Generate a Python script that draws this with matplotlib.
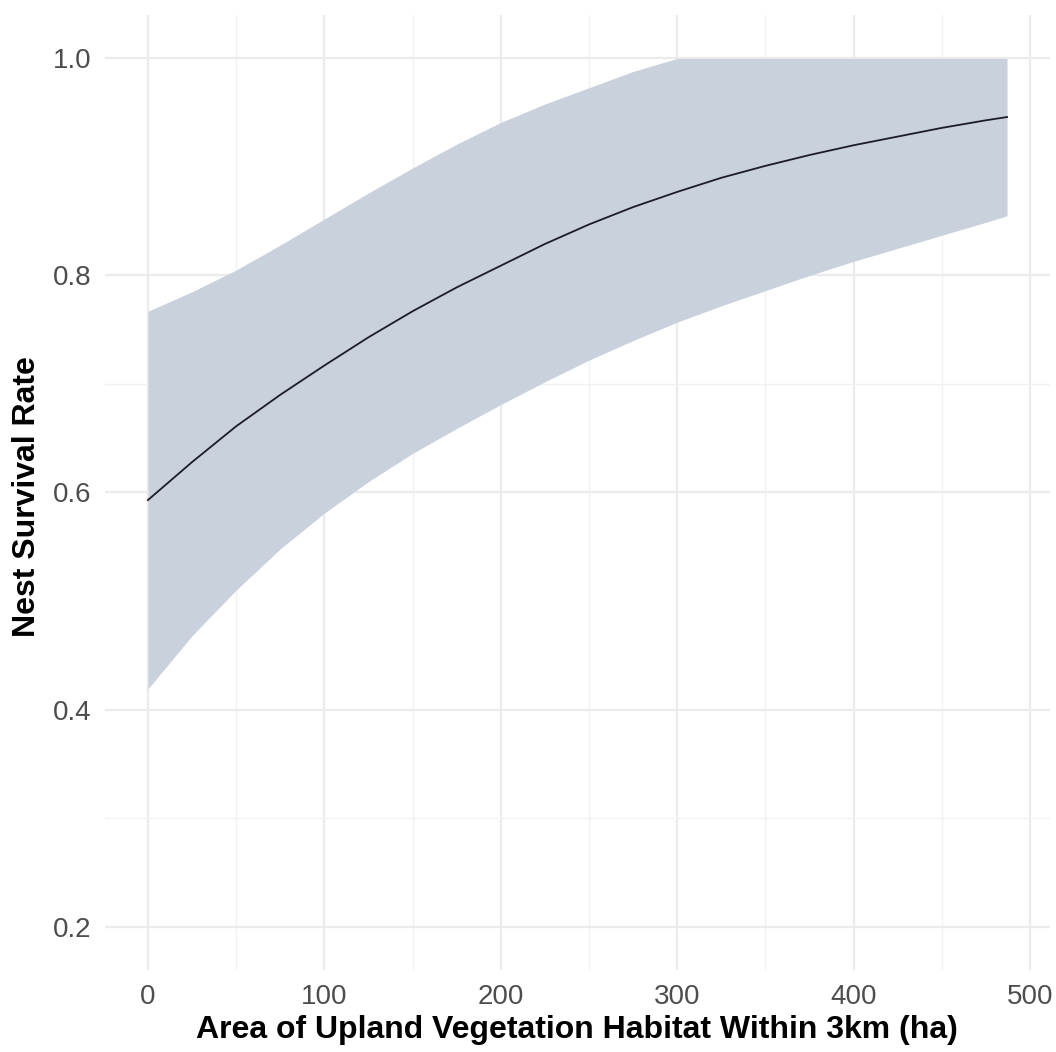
import numpy as np
import matplotlib
matplotlib.use("Agg")
from matplotlib import pyplot as plt

plt.rcParams['font.family'] = ['Liberation Sans', 'DejaVu Sans']

# habitat area (ha) and predicted nest survival with confidence band
area = [0, 25, 50, 75, 100, 125, 150, 175, 200, 225, 250, 275, 300,
        325, 350, 375, 400, 425, 450, 475, 487]
survival = [0.593, 0.628, 0.661, 0.690, 0.717, 0.743, 0.767, 0.789, 0.809, 0.829,
            0.847, 0.863, 0.877, 0.890, 0.901, 0.911, 0.920, 0.928, 0.936, 0.943, 0.946]
upper = [0.767, 0.785, 0.805, 0.828, 0.852, 0.876, 0.899, 0.921, 0.941, 0.958,
         0.973, 0.988, 1.0, 1.0, 1.0, 1.0, 1.0, 1.0, 1.0, 1.0, 1.0]
lower = [0.419, 0.468, 0.510, 0.548, 0.581, 0.610, 0.636, 0.659, 0.681, 0.702,
         0.722, 0.740, 0.757, 0.772, 0.786, 0.800, 0.813, 0.825, 0.837, 0.849, 0.855]

x_ticks = [0, 100, 200, 300, 400, 500]
x_minor = [50, 150, 250, 350, 450]
y_ticks = [0.2, 0.4, 0.6, 0.8, 1.0]
y_minor = [0.3, 0.7]

fig = plt.figure(figsize=(10.56, 10.52), dpi=100)
ax = fig.add_axes([0.0994, 0.078, 0.8949, 0.9077])

# gridlines (ggplot theme_minimal look)
for v in x_ticks:
    ax.axvline(v, color='#ebebeb', lw=1.6, zorder=0)
for v in x_minor:
    ax.axvline(v, color='#f2f2f2', lw=1.0, zorder=0)
for v in y_ticks:
    ax.axhline(v, color='#ebebeb', lw=1.6, zorder=0)
for v in y_minor:
    ax.axhline(v, color='#f2f2f2', lw=1.0, zorder=0)

ax.fill_between(area, lower, upper, color='#c9d1dc', lw=0, zorder=1)
ax.plot(area, survival, color='#1c1c28', lw=1.3, zorder=2)

ax.set_xlim(-24.35, 511.35)
ax.set_ylim(0.16, 1.04)
ax.set_xticks(x_ticks)
ax.set_yticks(y_ticks)
ax.set_xticklabels([str(v) for v in x_ticks])
ax.set_yticklabels(['%.1f' % v for v in y_ticks])
ax.tick_params(axis='both', length=0, labelsize=20, labelcolor='#4d4d4d')
ax.tick_params(axis='x', pad=10)
ax.tick_params(axis='y', pad=10)
for s in ax.spines.values():
    s.set_visible(False)

fig.text(0.546, 0.021, 'Area of Upland Vegetation Habitat Within 3km (ha)',
         ha='center', va='center', fontsize=23, fontweight='bold')
fig.text(0.026, 0.528, 'Nest Survival Rate', ha='center', va='center',
         rotation=90, fontsize=23, fontweight='bold')

plt.savefig('out.png', dpi=100, facecolor='white')
